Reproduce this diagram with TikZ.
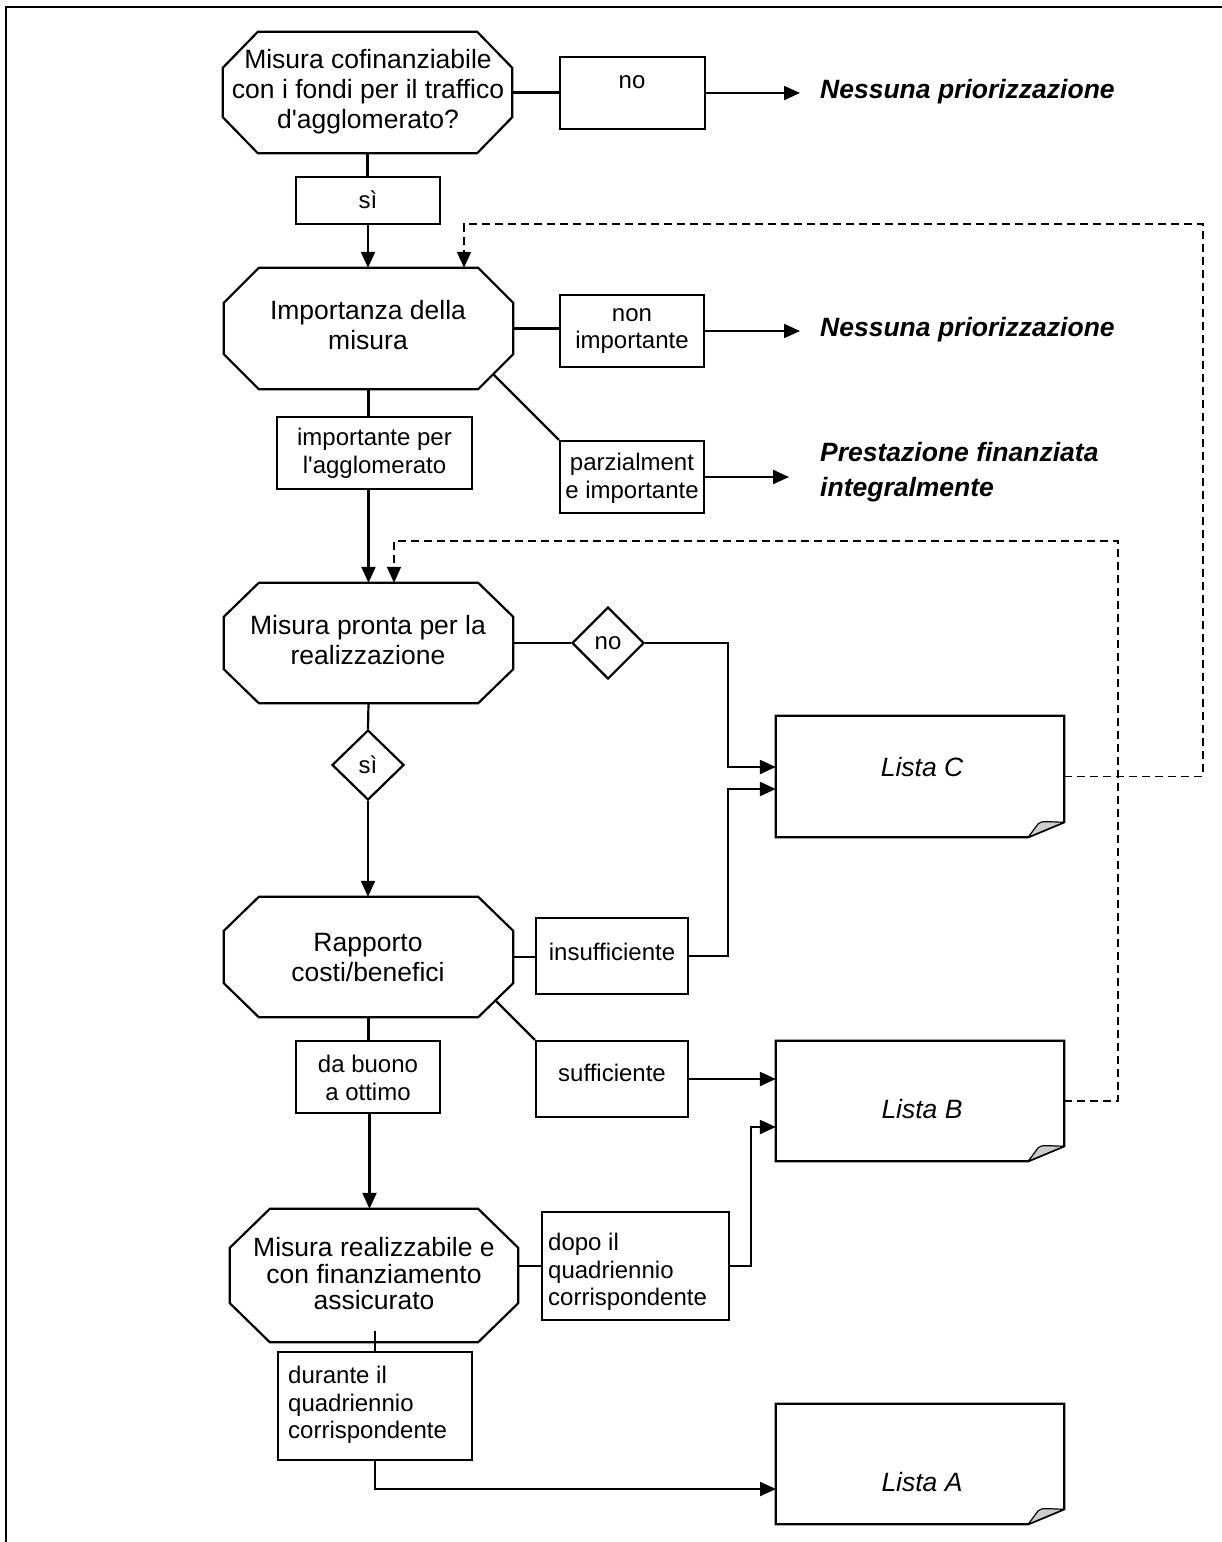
\documentclass[tikz,border=0pt]{standalone}
\usepackage{fontspec}
\setmainfont{Liberation Sans}
\usetikzlibrary{arrows.meta,shapes.geometric,fit,calc}
\newcommand\octo[3]{\draw[fr] ([xshift=#2]#1.north west) -- ([xshift=-#2]#1.north east) -- ([yshift=-#3]#1.north east) -- ([yshift=#3]#1.south east) -- ([xshift=-#2]#1.south east) -- ([xshift=#2]#1.south west) -- ([yshift=#3]#1.south west) -- ([yshift=-#3]#1.north west) -- cycle;}
\newcommand\lista[1]{\draw[fr] (#1.north west) -- (#1.north east) -- ([yshift=15pt]#1.south east) -- ([xshift=-36pt]#1.south east) -- (#1.south west) -- cycle;
\filldraw[fill=black!20, line width=1.2pt, line join=round] ([xshift=-36pt]#1.south east) -- ([xshift=-26pt,yshift=13.5pt]#1.south east) .. controls ([xshift=-23pt,yshift=17pt]#1.south east) and ([xshift=-14pt,yshift=15pt]#1.south east) .. ([yshift=15pt]#1.south east) -- cycle;}
\begin{document}
\begin{tikzpicture}[x=1pt,y=-1pt,
  fr/.style={line width=2.2pt, line join=miter},
  conn/.style={line width=2.2pt},
  arr/.style={conn, -{Triangle[length=16pt,width=14pt]}},
  dsh/.style={line width=1.8pt, dash pattern=on 8pt off 5pt, -{Triangle[length=16pt,width=14pt]}},
  area/.style={inner sep=0pt, draw=none},
  bx/.style={inner sep=0pt, draw, line width=2.2pt},
  lbl/.style={font=\fontsize{24}{27.6}\selectfont, align=center, inner sep=0pt},
  big/.style={font=\fontsize{26.5}{30}\selectfont, align=center, inner sep=0pt},
  res/.style={font=\fontsize{26.5}{35}\selectfont\bfseries\itshape, align=left, anchor=west, inner sep=0pt},
  dia/.style={diamond, draw, line width=2.2pt, inner sep=0pt, minimum width=72pt, minimum height=72pt, font=\fontsize{24}{27.6}\selectfont},
]
\useasboundingbox (0,0) rectangle (1222,1542);
% frame
\draw[line width=2.8pt] (1222,7) -- (6,7) -- (6,1542);

% ---------- nodes ----------
\node[area, fit={(223,32)(512,153)}] (o1) {};
\octo{o1}{35pt}{36pt}
\node[big] (o1t) at (368,92) {Misura cofinanziabile\\con i fondi per il traffico\\d\textquotesingle agglomerato?};

\node[bx, fit={(560,57)(705,129)}] (nobox) {};
\node[lbl] (nobox-t) at (632,82) {no};
\node[res] (res1) at (820,92) {Nessuna priorizzazione};

\node[bx, fit={(296,177)(440,224)}] (si1) {};
\node[lbl] (si1-t) at (368,200) {sì};

\node[area, fit={(224,268)(513,389)}] (o2) {};
\octo{o2}{35pt}{35pt}
\node[big] (o2t) at (368,325) {Importanza della\\misura};

\node[bx, fit={(560,295)(704,367)}] (nonimp) {};
\node[lbl] (nonimp-t) at (632,331) {non\\importante};
\node[res] (res2) at (820,330) {Nessuna priorizzazione};

\node[bx, fit={(560,441)(704,513)}] (parz) {};
\node[lbl] (parz-t) at (632,478) {parzialment\\e importante};
\node[res] (res3) at (820,472) {Prestazione finanziata\\integralmente};

\node[bx, fit={(277,417)(472,489)}] (imp) {};
\node[lbl] (imp-t) at (374.5,453) {importante per\\l\textquotesingle agglomerato};

\node[area, fit={(224,583)(513,703)}] (o3) {};
\octo{o3}{35pt}{34pt}
\node[big] (o3t) at (368,640) {Misura pronta per la\\realizzazione};

\node[dia] (dno) at (608,643) {no};
\node[dia, minimum height=70pt] (dsi) at (368,765) {sì};

\node[area, fit={(776,716)(1064,837)}] (LC) {};
\lista{LC}
\node[big, font=\fontsize{26.5}{30}\selectfont\itshape] (LC-t) at (922,767) {Lista C};

\node[area, fit={(224,897)(513,1017)}] (o4) {};
\octo{o4}{35pt}{34pt}
\node[big] (o4t) at (368,958) {Rapporto\\costi/benefici};

\node[bx, fit={(536,918)(688,994)}] (insuf) {};
\node[lbl] (insuf-t) at (612,952) {insufficiente};

\node[bx, fit={(536,1041)(688,1117)}] (suf) {};
\node[lbl] (suf-t) at (612,1073) {sufficiente};

\node[bx, fit={(296,1041)(440,1113)}] (buono) {};
\node[lbl] (buono-t) at (368,1078) {da buono\\a ottimo};

\node[area, fit={(776,1041)(1064,1161)}] (LB) {};
\lista{LB}
\node[big, font=\fontsize{26.5}{30}\selectfont\itshape] (LB-t) at (922,1109) {Lista B};

\node[area, fit={(230,1209)(518,1342)}] (o5) {};
\octo{o5}{40pt}{39pt}
\node[big, font=\fontsize{26.5}{26.5}\selectfont] (o5t) at (374,1274) {Misura realizzabile e\\con finanziamento\\assicurato};

\node[bx, fit={(542,1212)(729,1320)}] (dopo) {};
\node[lbl, align=left, anchor=west] (dopo-t) at (548,1272) {dopo il\\quadriennio\\corrispondente};

\node[bx, fit={(278,1352)(472,1460)}] (durante) {};
\node[lbl, align=left, anchor=west] (durante-t) at (288,1405) {durante il\\quadriennio\\corrispondente};

\node[area, fit={(776,1404)(1064,1524)}] (LA) {};
\lista{LA}
\node[big, font=\fontsize{26.5}{30}\selectfont\itshape] (LA-t) at (922,1482) {Lista A};

% ---------- helper coordinates ----------
\coordinate (t1) at (800,93);
\coordinate (t2) at (800,331);
\coordinate (t3) at (789,477);
\coordinate (j1) at (728,767);
\coordinate (j2) at (728,789);
\coordinate (j3) at (751,1127);
\coordinate (j4) at (776,1489);
\coordinate (dc1) at (1203,776.5);
\coordinate (dc2) at (1203,224);
\coordinate (dc3) at (464,224);
\coordinate (db1) at (1118,1101);
\coordinate (db2) at (1118,541);
\coordinate (db3) at (394,541);

% ---------- connectors ----------
\draw[conn] (o1.east) -- (o1.east -| nobox.west);
\draw[arr] (nobox.east) -- (t1);
\draw[conn] (o1.south) -- (o1.south |- si1.north);
\draw[arr] (si1.south) -- (si1.south |- o2.north);

\draw[conn] (o2.east) -- (o2.east -| nonimp.west);
\draw[arr] (nonimp.east) -- (t2);
\draw[conn] ($(o2.south east)+(-20,-15)$) -- (parz.north west);
\draw[arr] (parz.east) -- (t3);
\draw[conn] (o2.south) -- (o2.south |- imp.north);
\draw[arr] (o2.south |- imp.south) -- (o2.south |- o3.north);

\draw[conn] (o3.east) -- (dno.west);
\draw[arr] (dno.east) -| (j1) -- (j1 -| LC.west);
\draw[conn] (o3.south) -- (dsi.north);
\draw[arr] (dsi.south) -- (dsi.south |- o4.north);

\draw[conn] (o4.east) -- (o4.east -| insuf.west);
\draw[arr] (insuf.east) -| (j2) -- (j2 -| LC.west);
\draw[conn] ($(o4.south east)+(-18,-17)$) -- (suf.north west);
\draw[arr] (suf.east) -- (suf.east -| LB.west);
\draw[conn] (o4.south) -- (o4.south |- buono.north);
\draw[arr] ([xshift=1.5pt]buono.south) -- ([xshift=1.5pt]buono.south |- o5.north);

\draw[conn] (dopo.west) -- (dopo.west -| o5.east);
\draw[arr] (dopo.east) -| (j3) -- (j3 -| LB.west);
\draw[conn] ([yshift=20pt]durante.north) -- (durante.north);
\draw[arr] (durante.south) |- (j4);

\draw[dsh] (LC.east) -- (dc1) -- (dc2) -- (dc3) -- (dc3 |- o2.north);
\draw[dsh] (LB.east) -- (db1) -- (db2) -- (db3) -- (db3 |- o3.north);
\end{tikzpicture}
\end{document}
